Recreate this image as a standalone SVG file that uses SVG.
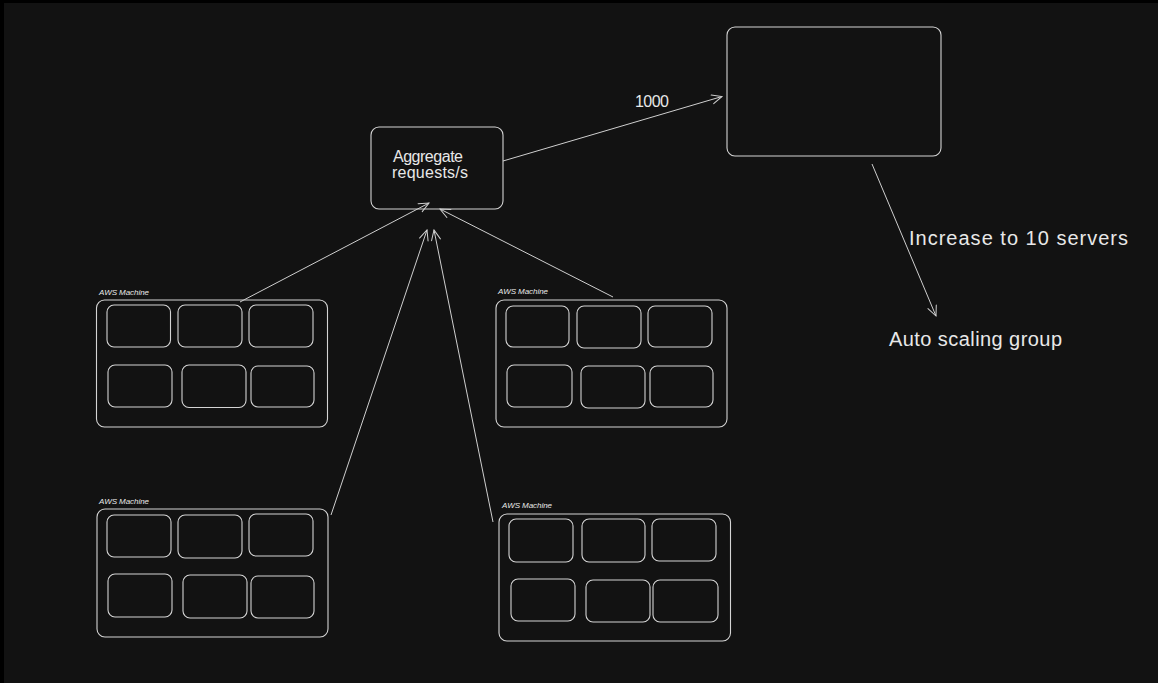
<svg xmlns="http://www.w3.org/2000/svg" width="1158" height="683" viewBox="0 0 1158 683">
<defs>
<marker id="ah" viewBox="0 0 12 12" refX="11" refY="6" markerWidth="12" markerHeight="12" markerUnits="userSpaceOnUse" orient="auto">
<path d="M1,1.5 L11,6 L1,10.5" fill="none" stroke="#cfcfcf" stroke-width="1" stroke-linecap="round"/>
</marker>
</defs>
<style>
.box{fill:none;stroke:#d4d4d4;stroke-width:1.1}
.cell{fill:none;stroke:#d4d4d4;stroke-width:1.1}
.conn{fill:none;stroke:#cfcfcf;stroke-width:1;marker-end:url(#ah)}
.t{fill:#e8e8e8;font-family:"Liberation Sans",Arial,sans-serif}
.lbl{font-size:16px}
.big{font-size:20px}
.small{font-size:8px;font-style:italic}
</style>
<rect x="0" y="0" width="1158" height="683" fill="#000"/>
<rect x="4" y="3" width="1154" height="680" fill="#121212"/>

<g id="aggregate">
<rect class="box" x="371" y="127" width="132" height="82" rx="8"/>
<text class="t lbl" x="393" y="162" textLength="70">Aggregate</text>
<text class="t lbl" x="392" y="178" textLength="76">requests/s</text>
</g>

<g id="target">
<rect class="box" x="727" y="27" width="214" height="129" rx="8"/>
</g>

<g id="auto-scaling">
<text class="t big" x="889" y="346" textLength="173">Auto scaling group</text>
</g>

<g id="machine1">
<text class="t small" x="99" y="295" textLength="50">AWS Machine</text>
<rect class="box" x="96.5" y="300" width="231" height="127" rx="8"/>
<rect class="cell" x="107" y="305" width="63.5" height="42" rx="7"/>
<rect class="cell" x="178" y="305" width="64" height="42" rx="7"/>
<rect class="cell" x="249" y="305" width="64" height="42" rx="7"/>
<rect class="cell" x="108" y="365" width="64" height="42" rx="7"/>
<rect class="cell" x="182" y="365" width="64" height="42.5" rx="7"/>
<rect class="cell" x="251" y="366" width="63" height="41" rx="7"/>
</g>

<g id="machine2">
<text class="t small" x="498" y="294" textLength="50">AWS Machine</text>
<rect class="box" x="496" y="300" width="231" height="127" rx="8"/>
<rect class="cell" x="506" y="306" width="63" height="41" rx="7"/>
<rect class="cell" x="577" y="306" width="64" height="42" rx="7"/>
<rect class="cell" x="648" y="306" width="64" height="41" rx="7"/>
<rect class="cell" x="507" y="365" width="65" height="42" rx="7"/>
<rect class="cell" x="581" y="366" width="64" height="42" rx="7"/>
<rect class="cell" x="650" y="366" width="63" height="41" rx="7"/>
</g>

<g id="machine3">
<text class="t small" x="99" y="504" textLength="50">AWS Machine</text>
<rect class="box" x="97" y="509" width="231" height="128" rx="8"/>
<rect class="cell" x="107" y="515" width="64" height="42" rx="7"/>
<rect class="cell" x="178" y="515" width="64" height="43" rx="7"/>
<rect class="cell" x="249" y="514" width="64" height="42" rx="7"/>
<rect class="cell" x="108" y="574" width="64" height="43" rx="7"/>
<rect class="cell" x="183" y="575" width="64" height="43" rx="7"/>
<rect class="cell" x="251" y="576" width="63" height="42" rx="7"/>
</g>

<g id="machine4">
<text class="t small" x="502" y="508" textLength="50">AWS Machine</text>
<rect class="box" x="499" y="514" width="231.5" height="127" rx="8"/>
<rect class="cell" x="509" y="519" width="64" height="43" rx="7"/>
<rect class="cell" x="582" y="519" width="63" height="43" rx="7"/>
<rect class="cell" x="652" y="519" width="64" height="42" rx="7"/>
<rect class="cell" x="511" y="579" width="64" height="42" rx="7"/>
<rect class="cell" x="586" y="580" width="64" height="42" rx="7"/>
<rect class="cell" x="653" y="580" width="65" height="42" rx="7"/>
</g>

<g id="connectors">
<line class="conn" x1="503" y1="161" x2="722" y2="96.5"/>
<text class="t lbl" x="635" y="107" textLength="34">1000</text>
<line class="conn" x1="872" y1="164" x2="936" y2="316"/>
<text class="t big" x="909" y="245" textLength="219">Increase to 10 servers</text>
<line class="conn" x1="240" y1="302" x2="429" y2="203"/>
<line class="conn" x1="613" y1="297" x2="440" y2="209"/>
<line class="conn" x1="331" y1="515" x2="427" y2="230"/>
<line class="conn" x1="493" y1="522" x2="434" y2="230"/>
</g>
</svg>
